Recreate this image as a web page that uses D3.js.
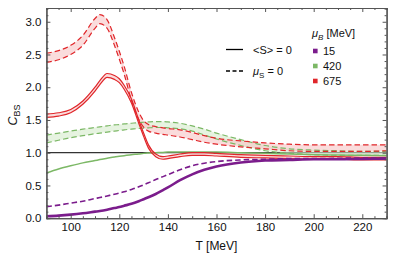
<!DOCTYPE html>
<html>
<head>
<meta charset="utf-8">
<script src="https://cdn.jsdelivr.net/npm/d3@7/dist/d3.min.js"></script>
<style>
  body { margin: 0; background: #fff; }
  svg text { font-family: "Liberation Sans", Arial, sans-serif; fill: #111; }
</style>
</head>
<body>
<div id="chart"></div>
<script>
// temperature grid [MeV]
var temps = [90, 95, 100, 105, 110, 112, 115, 118, 120, 122, 125, 128, 130, 132, 135,
             138, 140, 145, 150, 155, 160, 170, 180, 190, 200, 210, 220, 230];

// muB = 675, <S> = 0 (band edges)
var redSolidHi = [1.59, 1.61, 1.66, 1.79, 2.0, 2.1, 2.21, 2.18, 2.13, 2.03, 1.82, 1.5, 1.3, 1.12, 0.98,
                  0.94, 0.95, 0.98, 1.0, 1.0, 0.99, 0.97, 0.96, 0.95, 0.94, 0.94, 0.93, 0.93];
var redSolidLo = [1.54, 1.56, 1.61, 1.74, 1.94, 2.04, 2.15, 2.12, 2.07, 1.97, 1.76, 1.45, 1.25, 1.07, 0.94,
                  0.9, 0.91, 0.94, 0.96, 0.96, 0.95, 0.93, 0.92, 0.91, 0.9, 0.9, 0.89, 0.89];
// muB = 675, muS = 0
var redDashHi = [2.52, 2.56, 2.64, 2.79, 3.05, 3.11, 3.03, 2.76, 2.55, 2.32, 1.92, 1.62, 1.49, 1.43, 1.4,
                 1.38, 1.37, 1.35, 1.31, 1.26, 1.22, 1.18, 1.15, 1.13, 1.12, 1.12, 1.12, 1.12];
var redDashLo = [2.38, 2.42, 2.5, 2.64, 2.9, 2.97, 2.9, 2.64, 2.43, 2.2, 1.8, 1.51, 1.39, 1.33, 1.3,
                 1.28, 1.27, 1.24, 1.2, 1.16, 1.13, 1.09, 1.06, 1.03, 1.02, 1.02, 1.02, 1.03];
// muB = 420
var greenSolid = [0.69, 0.75, 0.8, 0.845, 0.88, 0.895, 0.915, 0.935, 0.945, 0.955, 0.97, 0.98, 0.99, 0.995, 1.0,
                  1.005, 1.01, 1.01, 1.01, 1.01, 1.01, 1.0, 0.99, 0.98, 0.97, 0.965, 0.96, 0.955];
var greenDashHi = [1.27, 1.3, 1.33, 1.36, 1.385, 1.395, 1.41, 1.425, 1.43, 1.44, 1.45, 1.46, 1.465, 1.47, 1.475,
                   1.475, 1.47, 1.45, 1.41, 1.36, 1.3, 1.2, 1.11, 1.06, 1.04, 1.03, 1.02, 1.02];
var greenDashLo = [1.15, 1.19, 1.23, 1.26, 1.29, 1.3, 1.315, 1.33, 1.34, 1.35, 1.36, 1.37, 1.375, 1.38, 1.385,
                   1.385, 1.38, 1.365, 1.33, 1.27, 1.21, 1.11, 1.03, 0.99, 0.97, 0.96, 0.96, 0.96];
// muB = 15
var purpleSolid = [0.03, 0.04, 0.055, 0.075, 0.1, 0.11, 0.13, 0.155, 0.17, 0.19, 0.22, 0.26, 0.29, 0.32, 0.37,
                   0.43, 0.47, 0.58, 0.67, 0.74, 0.79, 0.85, 0.88, 0.89, 0.9, 0.9, 0.905, 0.91];
var purpleDash = [0.175, 0.2, 0.23, 0.26, 0.3, 0.315, 0.34, 0.365, 0.385, 0.405, 0.44, 0.48, 0.51, 0.54, 0.59,
                  0.635, 0.665, 0.74, 0.8, 0.84, 0.865, 0.89, 0.9, 0.91, 0.91, 0.915, 0.92, 0.92];

var xTicks = [100, 120, 140, 160, 180, 200, 220];
var yTicks = [0, 0.5, 1.0, 1.5, 2.0, 2.5, 3.0];
var muBLabels = ["15", "420", "675"];

var purple = "#7b1c8c", green = "#7cb866", red = "#e0262a";
var muBColors = [purple, green, red];

var W = 399, H = 258;
var margin = {top: 8, right: 12.4, bottom: 39.8, left: 46.4};
var iw = W - margin.left - margin.right,
    ih = H - margin.top - margin.bottom;

var svg = d3.select("#chart").append("svg")
    .attr("width", W)
    .attr("height", H);

var g = svg.append("g").attr("transform", "translate(" + margin.left + "," + margin.top + ")");

var x = d3.scaleLinear().domain([90, 230]).range([0, iw]);
var y = d3.scaleLinear().domain([0, 3.21]).range([ih, 0]);

g.append("clipPath").attr("id", "clip")
  .append("rect").attr("width", iw).attr("height", ih);

var plot = g.append("g").attr("clip-path", "url(#clip)");

function line(vals) {
  return d3.line()
    .x((d, i) => x(temps[i]))
    .y(d => y(d))
    .curve(d3.curveMonotoneX)(vals);
}
function band(lo, hi) {
  return d3.area()
    .x((d, i) => x(temps[i]))
    .y0((d, i) => y(lo[i]))
    .y1((d, i) => y(hi[i]))
    .curve(d3.curveMonotoneX)(lo);
}

// reference line at 1
plot.append("line")
  .attr("x1", 0).attr("x2", iw)
  .attr("y1", y(1)).attr("y2", y(1))
  .attr("stroke", "#000").attr("stroke-width", 1);

// bands
plot.append("path").attr("d", band(greenDashLo, greenDashHi))
  .attr("fill", "#d6ebcc").attr("opacity", 0.6);
plot.append("path").attr("d", band(redDashLo, redDashHi))
  .attr("fill", "#f7c4c4").attr("opacity", 0.6);
plot.append("path").attr("d", band(redSolidLo, redSolidHi))
  .attr("fill", "#f7c4c4").attr("opacity", 0.6);

var dash = "5.5,3";
var curves = [
  {v: greenDashHi, c: green, w: 1.2, d: dash},
  {v: greenDashLo, c: green, w: 1.2, d: dash},
  {v: redDashHi, c: red, w: 1.2, d: dash},
  {v: redDashLo, c: red, w: 1.2, d: dash},
  {v: greenSolid, c: green, w: 1.5, d: null},
  {v: redSolidHi, c: red, w: 1.2, d: null},
  {v: redSolidLo, c: red, w: 1.2, d: null},
  {v: purpleDash, c: purple, w: 1.6, d: dash},
  {v: purpleSolid, c: purple, w: 2.6, d: null}
];

curves.forEach(function(k) {
  plot.append("path")
    .attr("d", line(k.v))
    .attr("fill", "none")
    .attr("stroke", k.c)
    .attr("stroke-width", k.w)
    .attr("stroke-dasharray", k.d);
});

// frame axes, ticks pointing inward
var minorX = d3.range(90, 231, 5).filter(t => xTicks.indexOf(t) < 0);
var minorY = d3.range(0, 33).map(i => i / 10).filter(t => Math.abs(t * 2 - Math.round(t * 2)) > 1e-6);

function styleAxis(sel) {
  sel.selectAll(".domain").attr("stroke", "#555").attr("stroke-width", 1.2);
  sel.selectAll(".tick line").attr("stroke", "#555");
  sel.selectAll(".tick text").style("font-size", "11.5px").attr("fill", "#111");
}

var bottom = g.append("g").attr("transform", "translate(0," + ih + ")")
  .call(d3.axisBottom(x).tickValues(xTicks).tickSize(-4).tickSizeOuter(0).tickPadding(5));
bottom.call(styleAxis);
g.append("g").attr("transform", "translate(0," + ih + ")")
  .call(d3.axisBottom(x).tickValues(minorX).tickSize(-2).tickFormat("")).call(styleAxis);

var left = g.append("g")
  .call(d3.axisLeft(y).tickValues(yTicks).tickSize(-4).tickSizeOuter(0).tickPadding(5)
    .tickFormat(d3.format(".1f")));
left.call(styleAxis);
g.append("g").call(d3.axisLeft(y).tickValues(minorY).tickSize(-2).tickFormat("")).call(styleAxis);

g.append("g").call(d3.axisTop(x).tickValues(xTicks).tickSize(-4).tickSizeOuter(0).tickFormat("")).call(styleAxis);
g.append("g").call(d3.axisTop(x).tickValues(minorX).tickSize(-2).tickFormat("")).call(styleAxis);
g.append("g").attr("transform", "translate(" + iw + ",0)")
  .call(d3.axisRight(y).tickValues(yTicks).tickSize(-4).tickSizeOuter(0).tickFormat("")).call(styleAxis);
g.append("g").attr("transform", "translate(" + iw + ",0)")
  .call(d3.axisRight(y).tickValues(minorY).tickSize(-2).tickFormat("")).call(styleAxis);

// axis titles
svg.append("text")
  .attr("x", margin.left + iw / 2).attr("y", 250)
  .attr("text-anchor", "middle")
  .style("font-size", "12px")
  .text("T [MeV]");

var yl = svg.append("text")
  .attr("transform", "translate(17," + (margin.top + ih / 2 + 2) + ") rotate(-90)")
  .attr("text-anchor", "middle")
  .style("font-size", "12.5px");
yl.append("tspan").style("font-style", "italic").text("C");
yl.append("tspan").attr("dy", 3).style("font-size", "9px").text("BS");

// line-style legend
var lg = svg.append("g");
lg.append("line").attr("x1", 226).attr("x2", 243).attr("y1", 49.5).attr("y2", 49.5)
  .attr("stroke", "#000").attr("stroke-width", 1.3);
lg.append("text").attr("x", 253).attr("y", 53.5).style("font-size", "11px").text("<S> = 0");
lg.append("line").attr("x1", 226).attr("x2", 243).attr("y1", 71).attr("y2", 71)
  .attr("stroke", "#000").attr("stroke-width", 1.3).attr("stroke-dasharray", "4,2.5");
var ms = lg.append("text").attr("x", 253).attr("y", 75).style("font-size", "11px");
ms.append("tspan").style("font-style", "italic").text("\u03bc");
ms.append("tspan").attr("dy", 2.5).style("font-size", "8px").text("S");
ms.append("tspan").attr("dy", -2.5).text(" = 0");

// muB legend
var mb = svg.append("text").attr("x", 312).attr("y", 37).style("font-size", "11px");
mb.append("tspan").style("font-style", "italic").text("\u03bc");
mb.append("tspan").attr("dy", 2.5).style("font-size", "8px").style("font-style", "italic").text("B");
mb.append("tspan").attr("dy", -2.5).text(" [MeV]");

var rows = svg.append("g").selectAll("g").data(muBLabels).join("g")
  .attr("transform", (d, i) => "translate(313," + (51 + i * 15) + ")");
rows.append("rect").attr("x", 0).attr("y", -2.3).attr("width", 4.6).attr("height", 4.6)
  .attr("fill", (d, i) => muBColors[i]);
rows.append("text").attr("x", 10).attr("y", 4).style("font-size", "11px").text(d => d);
</script>
</body>
</html>
